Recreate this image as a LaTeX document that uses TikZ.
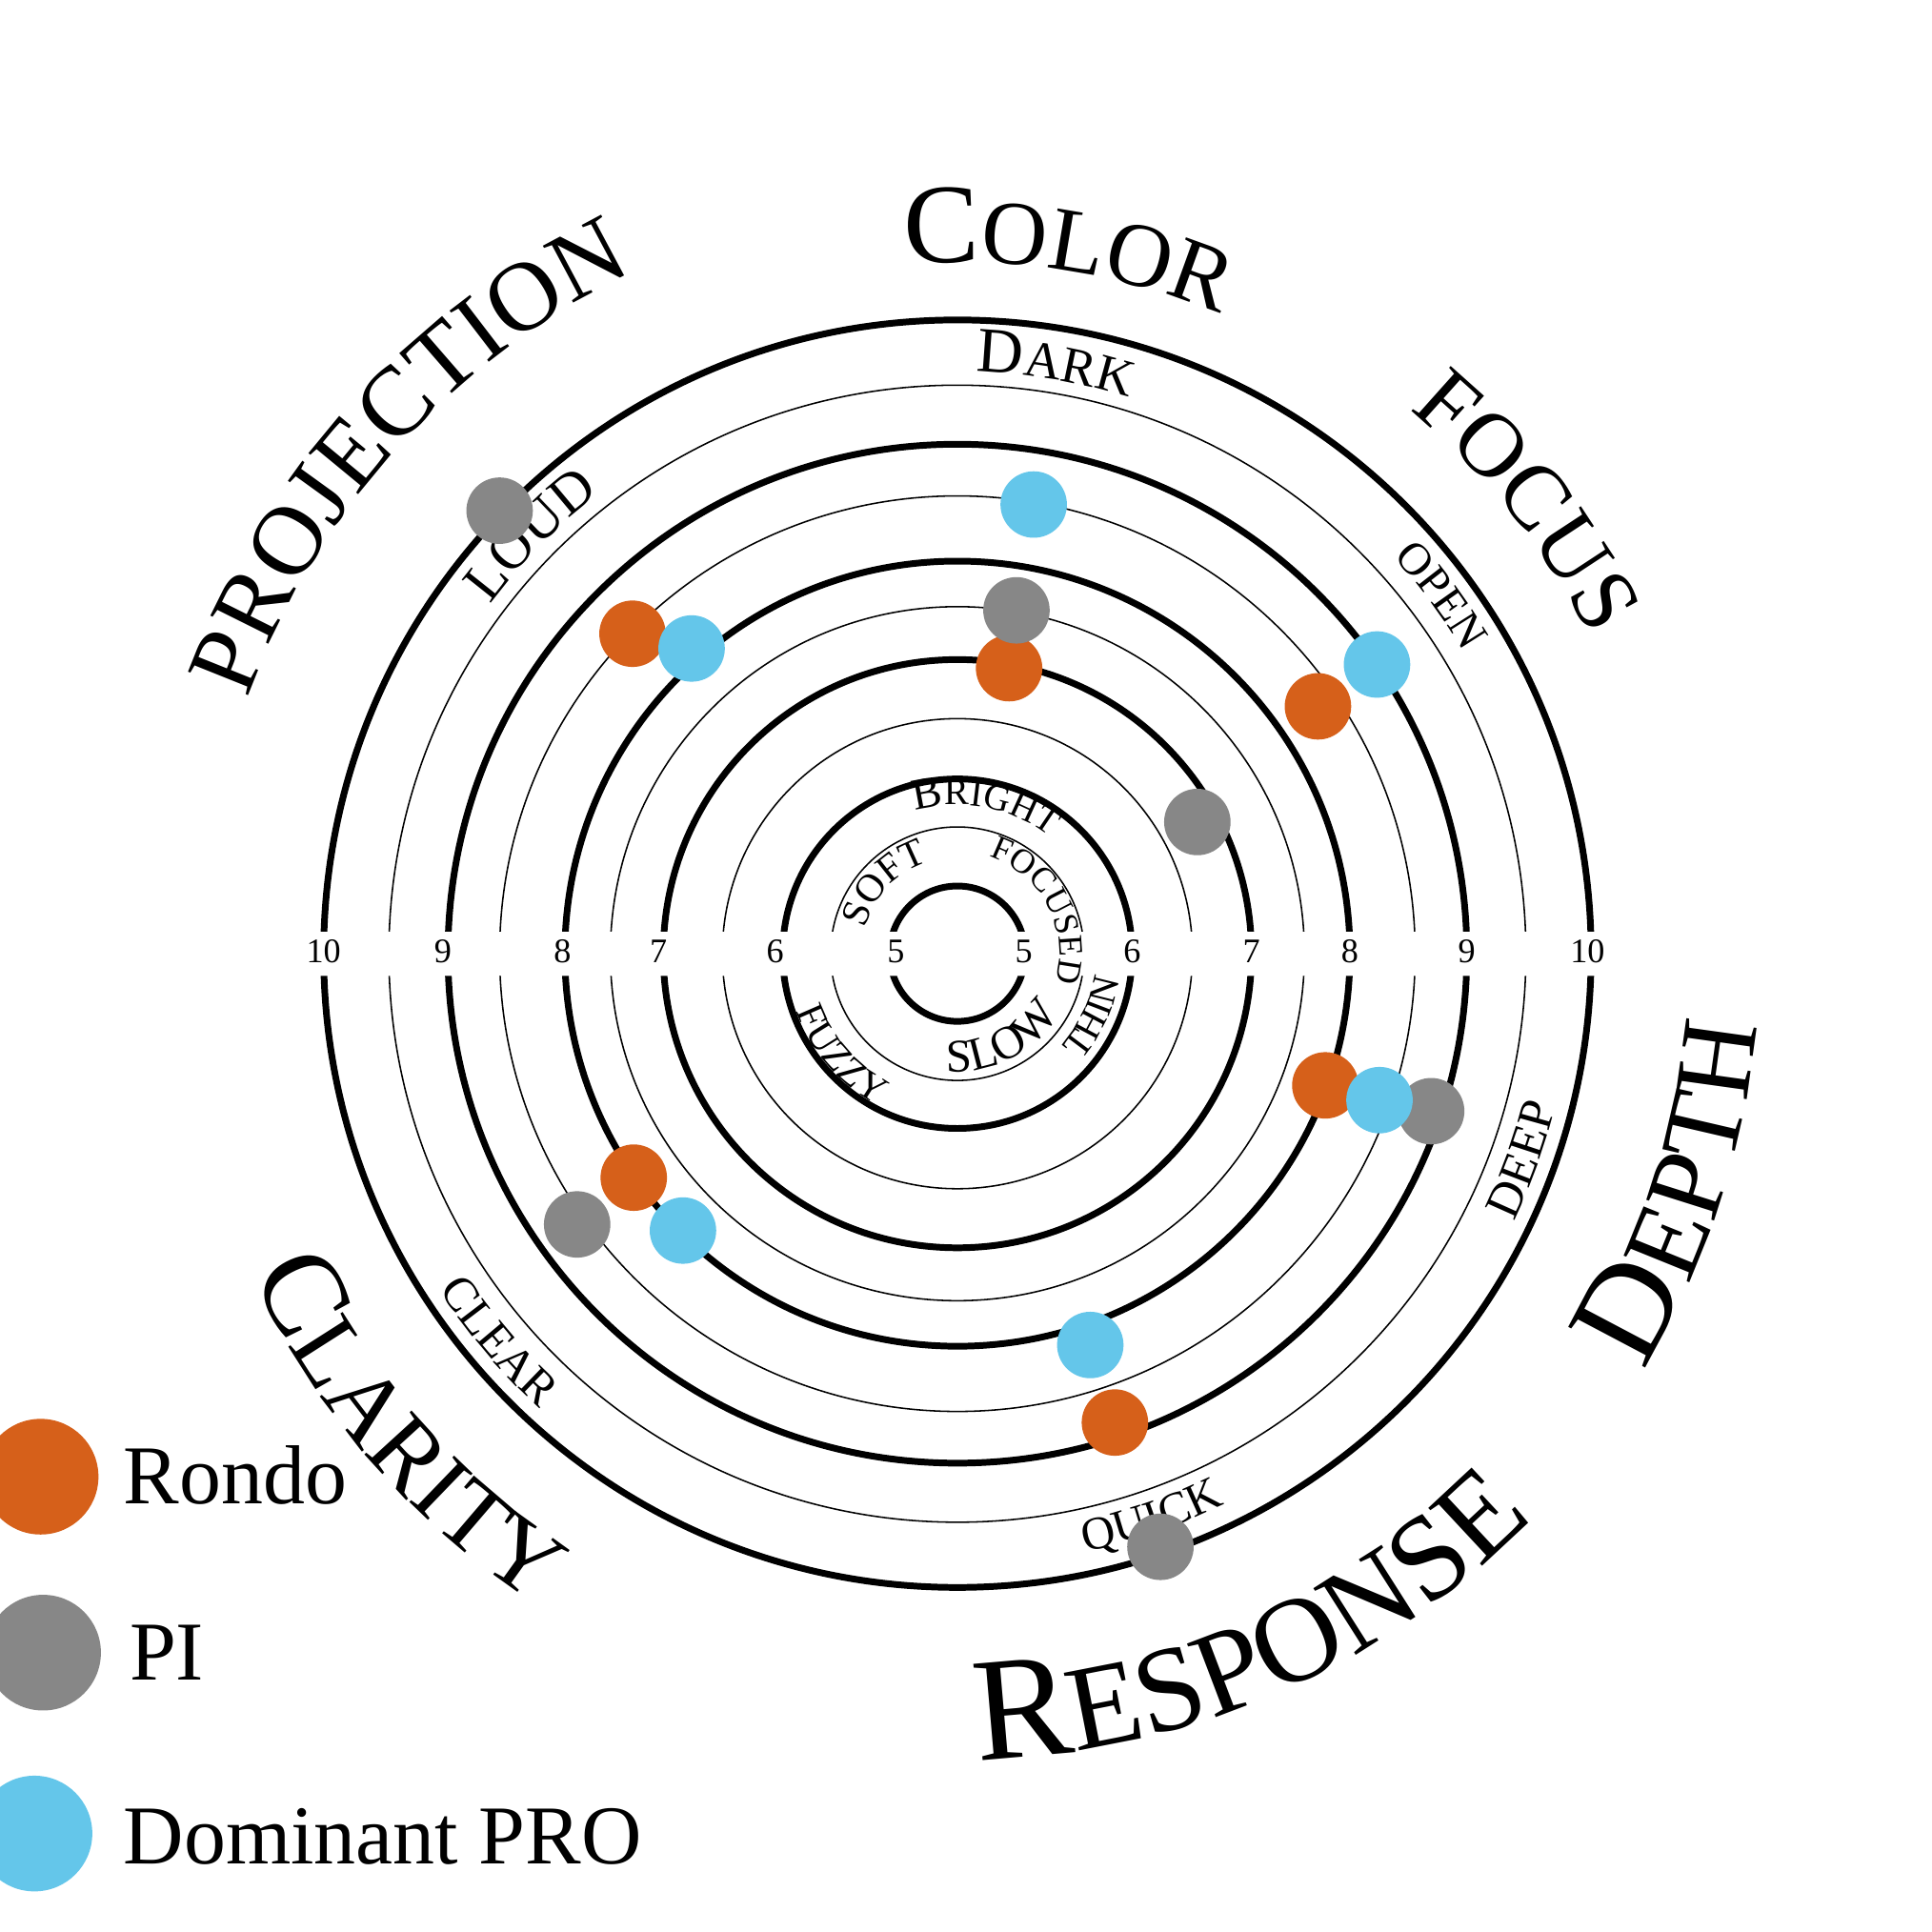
\documentclass[tikz,border=0pt]{standalone}
\usepackage{fontspec}
\setmainfont{Liberation Serif}
\usetikzlibrary{decorations.text,calc}
\definecolor{rondo}{HTML}{D6601A}
\definecolor{pigray}{HTML}{878787}
\definecolor{domblue}{HTML}{64C6EA}
\newcommand{\fs}[1]{\fontsize{#1}{#1}\selectfont}
\newcommand{\cwlabel}[4]{%
  \path[decorate,decoration={text along path,text align=center,text={#4}}]
    ($(ctr)+({#2+#3}:#1)$) arc[start angle={#2+#3}, end angle={#2-#3}, radius=#1];}
\newcommand{\ccwlabel}[4]{%
  \path[decorate,decoration={text along path,text align=center,text={#4}}]
    ($(ctr)+({#2-#3}:#1)$) arc[start angle={#2-#3}, end angle={#2+#3}, radius=#1];}
\tikzset{
  thickring/.style={line width=2.7pt,black},
  thinring/.style={line width=0.6pt,black},
  numlab/.style={font=\fs{14},inner sep=0pt},
  dot/.style={circle,inner sep=0pt,minimum size=27pt,draw=none},
  legdot/.style={circle,inner sep=0pt,minimum size=47pt,draw=none},
  legtext/.style={font=\fs{34},inner sep=0pt,anchor=base west}
}
\begin{document}
\begin{tikzpicture}[x=0.5pt,y=0.5pt]
\useasboundingbox (0,-18) rectangle (1570,1552);
\fill[white] (0,-18) rectangle (1570,1552);
\coordinate (ctr) at (778,777);
% rings with gap on the horizontal axis
\begin{scope}
  \clip (0,-18) rectangle (1570,759) (0,795) rectangle (1570,1552);
  \foreach \r in {55,142,239,319,414,515} \draw[thickring] (ctr) circle[radius=\r];
  \foreach \r in {103,191,282,372,462} \draw[thinring] (ctr) circle[radius=\r];
\end{scope}
% scale numbers
\node[numlab] (l10) at ($(ctr)+(-515,2)$) {10};
\node[numlab] (l9) at ($(ctr)+(-418,2)$) {9};
\node[numlab] (l8) at ($(ctr)+(-321,2)$) {8};
\node[numlab] (l7) at ($(ctr)+(-243,2)$) {7};
\node[numlab] (l6) at ($(ctr)+(-148,2)$) {6};
\node[numlab] (l5) at ($(ctr)+(-50,2)$) {5};
\node[numlab] (r5) at ($(ctr)+(54,2)$) {5};
\node[numlab] (r6) at ($(ctr)+(142,2)$) {6};
\node[numlab] (r7) at ($(ctr)+(239,2)$) {7};
\node[numlab] (r8) at ($(ctr)+(319,2)$) {8};
\node[numlab] (r9) at ($(ctr)+(414,2)$) {9};
\node[numlab] (r10) at ($(ctr)+(512,2)$) {10};
% category labels (outer)
\cwlabel{562}{81}{40}{|\fs{46}|C|\fs{37}|OLOR}
\cwlabel{613}{137.8}{40}{|\fs{40}|PROJECTION}
\cwlabel{575}{38.4}{35}{|\fs{37}|FOCUS}
\ccwlabel{652}{-18.2}{35}{|\fs{54}|D|\fs{44}|EPTH}
\ccwlabel{655}{-66.5}{40}{|\fs{60}|R|\fs{49}|ESPONSE}
\ccwlabel{630}{-139.3}{35}{|\fs{48}|C|\fs{40}|LARITY}
% pole labels (outer band)
\cwlabel{473}{80.5}{30}{|\fs{26}|D|\fs{21}|ARK}
\cwlabel{474}{135.5}{30}{|\fs{23}|LOUD}
\cwlabel{479}{36.5}{25}{|\fs{18.5}|OPEN}
\ccwlabel{502}{-139.8}{30}{|\fs{19.5}|CLEAR}
\ccwlabel{502}{-20}{25}{|\fs{20}|DEEP}
\ccwlabel{497}{-71}{30}{|\fs{19}|QUICK}
% pole labels (inner)
\cwlabel{121}{79}{60}{|\fs{18}|B|\fs{15}|RIGHT}
\cwlabel{78}{136}{60}{|\fs{16}|SOFT}
\cwlabel{83}{28}{80}{|\fs{14}|FOCUSED}
\ccwlabel{96}{-63}{60}{|\fs{19}|SLOW}
\ccwlabel{133}{-25}{40}{|\fs{15.5}|THIN}
\ccwlabel{139}{-139}{45}{|\fs{16}|FUZZY}
% Rondo
\node[dot,fill=rondo] (o1) at (514,1037) {};
\node[dot,fill=rondo] (o2) at (820,1009) {};
\node[dot,fill=rondo] (o3) at (1071,978) {};
\node[dot,fill=rondo] (o4) at (1077,670) {};
\node[dot,fill=rondo] (o5) at (515,595) {};
\node[dot,fill=rondo] (o6) at (906,396) {};
% PI
\node[dot,fill=pigray] (g1) at (406,1137) {};
\node[dot,fill=pigray] (g2) at (826,1056) {};
\node[dot,fill=pigray] (g3) at (973,884) {};
\node[dot,fill=pigray] (g4) at (1163,649) {};
\node[dot,fill=pigray] (g5) at (469,557) {};
\node[dot,fill=pigray] (g6) at (943,295) {};
% Dominant PRO
\node[dot,fill=domblue] (b1) at (840,1142) {};
\node[dot,fill=domblue] (b2) at (562,1025) {};
\node[dot,fill=domblue] (b3) at (1119,1012) {};
\node[dot,fill=domblue] (b4) at (1121,658) {};
\node[dot,fill=domblue] (b5) at (555,552) {};
\node[dot,fill=domblue] (b6) at (886,459) {};
% legend
\node[legdot,fill=rondo] (lg1) at (33,352) {};
\node[legdot,fill=pigray] (lg2) at (35,209) {};
\node[legdot,fill=domblue] (lg3) at (28,62) {};
\node[legtext] (lt1) at (100,330) {Rondo};
\node[legtext] (lt2) at (105,187) {PI};
\node[legtext] (lt3) at (100,37) {Dominant PRO};
\end{tikzpicture}
\end{document}
